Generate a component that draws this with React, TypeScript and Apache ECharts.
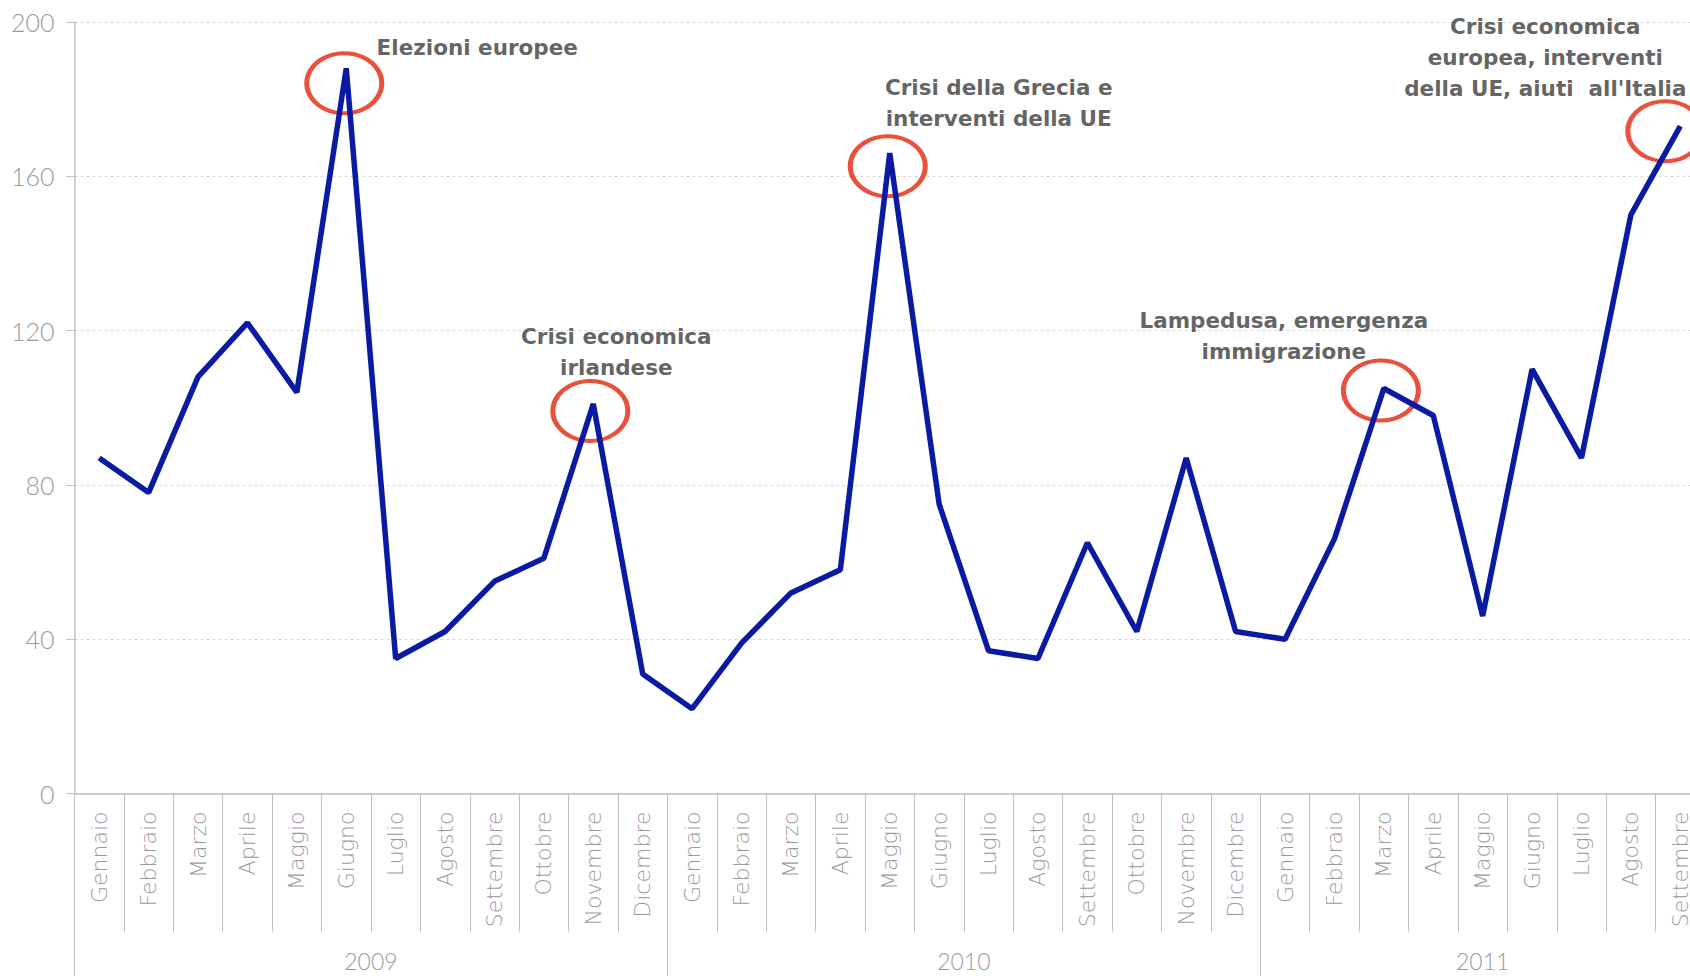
import React, { useEffect, useRef } from "react";
import * as echarts from "echarts";

const MONTHS = ["Gennaio", "Febbraio", "Marzo", "Aprile", "Maggio", "Giugno", "Luglio", "Agosto", "Settembre", "Ottobre", "Novembre", "Dicembre"];
const YEARS = ["2009", "2010", "2011"];
const MONTHS_PER_YEAR = [12, 12, 9];
const VALUES = [
  87, 78, 108, 122, 104, 188, 35, 42, 55, 61, 101, 31,
  22, 39, 52, 58, 166, 75, 37, 35, 65, 42, 87, 42,
  40, 66, 105, 98, 46, 110, 87, 150, 173,
];
const Y_TICKS = [0, 40, 80, 120, 160, 200];
const EVENT_INDEX = [5, 10, 16, 26, 32];
const EVENT_TEXT = [
  "Elezioni europee",
  "Crisi economica\nirlandese",
  "Crisi della Grecia e\ninterventi della UE",
  "Lampedusa, emergenza\nimmigrazione",
  "Crisi economica\neuropea, interventi\ndella UE, aiuti  all'Italia",
];

// styling: ellipse offsets and text offsets (pixels) for each event
const ELLIPSE_OFFSET = [[-2, 15], [-3, 7], [-2, 13], [-3, 2], [-15, 5]];
const TEXT_OFFSET = [[131, -21], [23, -52], [109, -50], [-100, -52], [-135, -69]];

const GRAY = "#bfbfbf";
const LABEL_GRAY = "#9a9a9a";
const NUM_FONT = "Lato, 'DejaVu Sans', sans-serif";
const TXT_FONT = "'DejaVu Sans', Lato, sans-serif";

export default function App() {
  const ref = useRef<HTMLDivElement>(null);
  useEffect(() => {
    if (!ref.current) return;
    document.body.style.overflow = "hidden";
    const chart = echarts.init(ref.current, null, { renderer: "svg" });

    const categories: string[] = [];
    YEARS.forEach((y, yi) => {
      for (let m = 0; m < MONTHS_PER_YEAR[yi]; m++) categories.push(MONTHS[m] + " " + y);
    });
    const total = categories.length;
    const yearBounds: number[] = [0];
    const yearCenters: number[] = [];
    let acc = 0;
    MONTHS_PER_YEAR.forEach((n) => {
      yearCenters.push(acc + n / 2);
      acc += n;
      yearBounds.push(acc);
    });

    chart.setOption({
      animation: false,
      grid: { left: 74.5, right: 0, top: 22, bottom: 182.5, containLabel: false },
      xAxis: [
        {
          type: "category",
          data: categories,
          boundaryGap: true,
          position: "bottom",
          axisLine: { show: true, lineStyle: { color: GRAY, width: 1.5 } },
          axisTick: { show: true, interval: 0, length: 138, lineStyle: { color: GRAY, width: 1 } },
          axisLabel: {
            show: true,
            interval: 0,
            rotate: 90,
            margin: 18,
            color: LABEL_GRAY,
            fontSize: 22,
            fontFamily: TXT_FONT,
            fontWeight: 200,
            formatter: (v: string) => v.split(" ")[0],
          },
          splitLine: { show: false },
        },
        {
          type: "value",
          min: 0,
          max: total,
          position: "bottom",
          axisLine: { show: false },
          splitLine: { show: false },
          axisTick: { show: true, customValues: yearBounds, length: 185, lineStyle: { color: GRAY, width: 1 } },
          axisLabel: {
            show: true,
            customValues: yearCenters,
            margin: 156,
            lineHeight: 23,
            color: LABEL_GRAY,
            fontSize: 23,
            fontFamily: NUM_FONT,
            fontWeight: 300,
            formatter: (v: number) => {
              const i = yearCenters.findIndex((c) => Math.abs(c - v) < 1e-6);
              return i >= 0 ? YEARS[i] : "";
            },
          },
        },
      ],
      yAxis: {
        type: "value",
        min: Y_TICKS[0],
        max: Y_TICKS[Y_TICKS.length - 1],
        interval: Y_TICKS[1] - Y_TICKS[0],
        axisLine: { show: true, lineStyle: { color: GRAY, width: 1.5 } },
        axisTick: { show: true, length: 8, lineStyle: { color: GRAY } },
        axisLabel: { color: LABEL_GRAY, fontSize: 25, fontFamily: NUM_FONT, fontWeight: 300, margin: 20 },
        splitLine: { show: true, lineStyle: { color: "#d9d9d9", type: [3, 3], width: 1 } },
      },
      series: [
        {
          type: "line",
          xAxisIndex: 0,
          data: VALUES,
          symbol: "none",
          z: 3,
          lineStyle: { color: "#0a1aa3", width: 5.5 },
          silent: true,
        },
        {
          type: "scatter",
          xAxisIndex: 0,
          z: 2,
          silent: true,
          symbol: "circle",
          symbolSize: [75, 60],
          itemStyle: { color: "rgba(0,0,0,0)", borderColor: "#e3260b", borderWidth: 4.5 },
          data: EVENT_INDEX.map((idx, i) => ({ value: [idx, VALUES[idx]], symbolOffset: ELLIPSE_OFFSET[i] })),
        },
        {
          type: "scatter",
          xAxisIndex: 0,
          z: 4,
          silent: true,
          symbolSize: 1,
          itemStyle: { color: "rgba(0,0,0,0)" },
          label: {
            show: true,
            position: "inside",
            formatter: "{b}",
            align: "center",
            verticalAlign: "middle",
            color: "#3a3a3a",
            fontSize: 21.5,
            fontWeight: "bold",
            fontFamily: TXT_FONT,
            lineHeight: 31,
          },
          data: EVENT_INDEX.map((idx, i) => ({
            name: EVENT_TEXT[i],
            value: [idx, VALUES[idx]],
            label: { offset: TEXT_OFFSET[i] },
          })),
        },
      ],
    });
    return () => chart.dispose();
  }, []);
  return <div ref={ref} style={{ position: "fixed", left: 0, top: 0, width: 1705, height: 976, background: "#fff" }} />;
}
